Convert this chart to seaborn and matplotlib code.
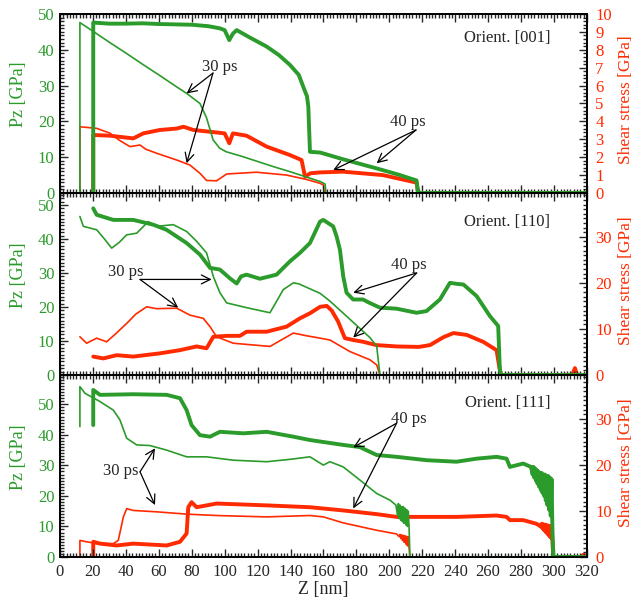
import matplotlib
matplotlib.use("Agg")
import matplotlib.pyplot as plt
from matplotlib.ticker import MultipleLocator
import seaborn as sns

# ---- Orient. [001] ----
z_001_pz30 = [12.1, 12.1, 20, 30, 40, 50, 60, 70, 77, 85, 89, 93, 97, 101, 110, 120, 130, 140, 150, 158, 161, 161.5, 320]
pz_001_30 = [0, 47.6, 45.2, 42.1, 39.1, 36.0, 33.0, 29.9, 27.8, 25.0, 21.0, 14.8, 12.5, 11.5, 10.3, 8.8, 7.3, 5.9, 4.4, 3.2, 2.5, 0, 0]
z_001_pz40 = [20.2, 20.2, 30, 40, 50, 60, 70, 80, 90, 97, 100, 102.8, 105, 107.3, 115, 125.5, 133, 139.6, 145, 147.7, 150, 150.8, 151.8, 158, 172, 192, 205, 216.5, 217.5, 320]
pz_001_40 = [0, 47.6, 47.3, 47.3, 47.4, 47.2, 47.1, 47.0, 46.6, 46.0, 45.5, 42.7, 44.5, 45.5, 43.5, 40.9, 38.5, 35.8, 33.0, 29.7, 27.0, 24.1, 11.5, 11.3, 9.4, 6.9, 5.2, 3.5, 0, 0]
z_001_sh30 = [12.1, 12.1, 22.3, 30.4, 36, 42.5, 48.6, 52, 58.7, 70.9, 78.9, 85, 89, 95.1, 101.2, 119.4, 137.6, 150, 157.9, 160, 160.5, 320]
sh_001_30 = [0, 3.70, 3.61, 3.34, 2.95, 2.59, 2.68, 2.45, 2.22, 1.84, 1.56, 1.10, 0.70, 0.68, 1.06, 1.16, 1.0, 0.75, 0.54, 0.45, 0, 0]
z_001_sh40 = [20.2, 20.2, 30.4, 44.5, 50.6, 60.7, 70.9, 75, 81, 93.1, 100, 102.8, 105, 113.3, 125.5, 139.6, 146.7, 148.8, 152, 158, 172, 196, 216.5, 217.5, 320]
sh_001_40 = [0, 3.24, 3.2, 3.05, 3.33, 3.52, 3.60, 3.70, 3.52, 3.40, 3.33, 2.78, 3.33, 3.2, 2.59, 2.12, 1.84, 0.91, 1.1, 1.15, 1.19, 1.0, 0.58, 0, 0]

# ---- Orient. [110] ----
z_110_pz30 = [12.1, 14.2, 22.3, 27, 31.4, 36, 40.5, 46.6, 53.6, 58.7, 68.8, 76.9, 83, 89, 93.1, 97.1, 101.2, 113.3, 127.5, 135.6, 141.7, 145, 158, 164, 176, 188.2, 192.3, 194.3, 320]
pz_110_30 = [46.6, 43.7, 42.7, 40.0, 37.3, 39.0, 41.2, 41.7, 45.1, 43.7, 44.2, 42.2, 39.3, 35.9, 29.0, 24.2, 21.2, 19.8, 18.3, 25.1, 27.1, 26.8, 24.0, 21.7, 16.4, 11.0, 8.5, 0, 0]
z_110_pz40 = [20.2, 22.3, 32.4, 44.5, 56.6, 64.7, 76.9, 85, 91.1, 97.1, 103, 107.3, 110, 113.3, 121.4, 131.5, 139.6, 145.7, 151.8, 157.9, 159.9, 165.9, 168, 170, 172, 174, 178, 184, 188, 194.3, 204.4, 216.5, 222.6, 230.7, 236.8, 241, 245, 253, 261.1, 266.1, 267.1, 267.8, 320]
pz_110_40 = [49.0, 47.1, 45.6, 45.6, 44.2, 42.7, 38.8, 35.4, 31.5, 31.0, 28.5, 26.9, 29.0, 29.5, 28.3, 29.5, 33.4, 35.9, 38.8, 45.1, 45.6, 43.7, 40.7, 36.8, 29.0, 24.2, 22.2, 22.2, 21.2, 19.8, 19.5, 18.3, 18.8, 22.2, 27.1, 26.8, 26.6, 23.2, 17.3, 14.4, 1.7, 0, 0]
z_110_sh30 = [12.1, 16.2, 22.3, 28.3, 34, 40.5, 46, 52.6, 58.7, 70.9, 78.9, 87, 91.1, 95.1, 105.2, 127.5, 141.7, 150, 158, 163.9, 176, 188.2, 192.3, 194.3, 320]
sh_110_30 = [8.3, 6.9, 8.0, 7.2, 9.0, 11.2, 13.2, 14.8, 14.4, 14.5, 13.0, 12.3, 10.5, 8.3, 6.9, 6.2, 9.1, 8.5, 8.0, 7.6, 5.1, 3.3, 2.2, 0, 0]
z_110_sh40 = [20.2, 26.3, 34.4, 44.5, 60.7, 72.9, 83, 89, 93.1, 101.2, 109.3, 113.3, 125.5, 137.6, 145.7, 151.8, 157.9, 162, 165, 168.9, 173, 178, 184.2, 192, 204.4, 218, 224.7, 232.8, 238.9, 247, 257, 265.1, 267.1, 268, 311, 312.7, 314, 320]
sh_110_40 = [4.0, 3.6, 4.3, 4.0, 4.7, 5.4, 6.2, 5.8, 8.3, 8.5, 8.5, 9.4, 9.4, 10.5, 12.3, 13.4, 14.8, 15.0, 14.0, 11.6, 8.0, 7.6, 7.2, 6.5, 6.2, 6.1, 6.5, 8.2, 9.1, 8.7, 7.2, 5.4, 1.0, 0, 0, 1.5, 0, 0]

# ---- Orient. [111] ----
z_111_pz30 = [12.1, 12.1, 15.2, 24.3, 32.4, 36.4, 40.5, 46.6, 54.6, 64.8, 76.9, 89, 105.2, 125.5, 140, 151.8, 159.9, 163.9, 172, 182.1, 192.3, 200.4, 204,
              205, 205.5, 206, 206.5, 207, 207.5, 208, 208.5, 209, 209.5, 210, 210.5, 211, 211.5, 212, 212.5, 320]
pz_111_30 = [42.7, 55.8, 53.6, 50.9, 48.1, 44.9, 38.9, 36.7, 36.5, 35.0, 32.8, 32.8, 31.7, 31.2, 32.0, 32.8, 30.1, 31.2, 29.5, 25.2, 20.8, 18.6, 17.0,
             13.5, 17.5, 12.5, 17.0, 12.0, 16.5, 11.5, 16.5, 11.0, 16.0, 10.5, 15.5, 10.0, 15.0, 9.5, 0, 0]
z_111_pz40 = [20.2, 20.2, 24.3, 44.5, 64.8, 72.9, 76.9, 79.9, 85, 91.1, 97.1, 111.3, 125.5, 141.7, 151.8, 172, 182, 192.3, 204.4, 222.6, 240.8, 253, 265.1, 271.2, 273.2, 281.3, 286,
              287, 287.5, 288, 288.5, 289, 289.5, 290, 290.5, 291, 291.5, 292, 292.5, 293, 293.5, 294, 294.5, 295, 295.5, 296, 296.5, 297, 297.5, 298, 298.5, 299, 299.5, 320]
pz_111_40 = [43.2, 54.7, 53.1, 53.3, 53.1, 52.0, 48.1, 43.2, 39.9, 39.4, 41.0, 40.5, 41.0, 39.4, 38.3, 36.7, 36.0, 33.4, 32.8, 31.7, 31.2, 32.2, 32.8, 32.2, 29.5, 30.6, 29.5,
             27.0, 29.5, 26.0, 29.0, 25.0, 28.5, 24.0, 28.0, 23.0, 27.5, 22.0, 27.5, 21.0, 27.0, 20.0, 27.0, 18.5, 26.5, 17.0, 26.5, 15.5, 26.0, 13.5, 25.5, 10.0, 0, 0]
z_111_sh30 = [12.1, 12.1, 16.2, 22.3, 32.4, 35.4, 38.5, 40.5, 44.5, 58.7, 76.9, 95.1, 125.5, 151.8, 160, 172, 192.3, 204.4,
              206, 206.5, 207, 207.5, 208, 208.5, 209, 209.5, 210, 210.5, 211, 211.5, 212, 212.5, 320]
sh_111_30 = [0, 3.6, 3.3, 2.9, 2.9, 3.6, 8.7, 10.5, 10.1, 9.8, 9.3, 9.0, 8.7, 9.0, 8.7, 7.4, 5.8, 5.0,
             4.4, 4.9, 4.0, 4.8, 3.6, 4.7, 3.2, 4.6, 2.8, 4.5, 2.4, 4.4, 2.0, 0, 0]
z_111_sh40 = [20.2, 20.2, 24.3, 34.4, 44.5, 64.8, 72.9, 76.9, 77.9, 79.9, 83, 95.1, 125.5, 151.8, 172, 192.3, 204.4, 222.6, 240.8, 265.1, 271.2, 273.2, 281.3, 289.4,
              292, 292.5, 293, 293.5, 294, 294.5, 295, 295.5, 296, 296.5, 297, 297.5, 298, 298.5, 299, 299.5, 316, 318, 320]
sh_111_40 = [0, 3.3, 2.9, 2.5, 2.9, 2.5, 3.3, 5.1, 10.8, 11.9, 10.8, 11.6, 11.2, 10.8, 10.1, 9.3, 8.7, 8.7, 8.7, 9.0, 8.7, 8.0, 8.0, 7.2,
             6.6, 7.2, 6.2, 7.1, 5.8, 7.0, 5.4, 6.9, 5.0, 6.8, 4.6, 6.7, 4.2, 6.6, 3.8, 0, 0, 0.5, 0]

orientaciones = ["Orient. [001]", "Orient. [110]", "Orient. [111]"]

VERDE = "#2b9b2b"
ROJO = "#ff2a00"
GRUESO = 2.8
FINO = 1.2


def linea(ax, x, y, color, lw):
    sns.lineplot(x=x, y=y, ax=ax, color=color, lw=lw, estimator=None, sort=False)


def flecha(ax, texto, pos_texto, origen, destinos):
    if texto:
        ax.text(pos_texto[0], pos_texto[1], texto, ha="center", va="center", fontsize=12, zorder=10)
    for d in destinos:
        ax.annotate("", xy=d, xytext=origen,
                    arrowprops=dict(arrowstyle="->", color="black", lw=0.9, mutation_scale=16,
                                    shrinkA=0, shrinkB=0), zorder=10)


def configurar(ax, ax2, ylim_pz, ylim_sh, paso_sh, menor_sh, ultimo):
    ax.set_xlim(0, 320)
    ax.set_ylim(*ylim_pz)
    ax2.set_ylim(*ylim_sh)
    ax.xaxis.set_major_locator(MultipleLocator(20))
    ax.xaxis.set_minor_locator(MultipleLocator(2))
    ax.yaxis.set_major_locator(MultipleLocator(10))
    ax.yaxis.set_minor_locator(MultipleLocator(1))
    ax2.yaxis.set_major_locator(MultipleLocator(paso_sh))
    ax2.yaxis.set_minor_locator(MultipleLocator(menor_sh))
    ax.tick_params(which="both", direction="in", top=True, right=False, width=1.0)
    ax.tick_params(which="major", length=6)
    ax.tick_params(which="minor", length=3)
    ax.tick_params(axis="y", labelcolor=VERDE, labelsize=12, pad=4)
    ax.tick_params(axis="x", labelsize=12, pad=5)
    ax2.tick_params(which="both", direction="in", right=True, left=False, width=1.0)
    ax2.tick_params(which="major", length=6)
    ax2.tick_params(which="minor", length=3)
    ax2.tick_params(axis="y", labelcolor=ROJO, labelsize=12, pad=6)
    if not ultimo:
        ax.tick_params(axis="x", labelbottom=False)
    for a in (ax, ax2):
        for s in a.spines.values():
            s.set_linewidth(1.3)
            s.set_color("black")
    ax.set_ylabel("Pz [GPa]", color=VERDE, fontsize=13)
    ax2.set_ylabel("Shear stress [GPa]", color=ROJO, fontsize=12.5, rotation=90)
    ax.yaxis.set_label_coords(-0.062, 0.55)
    ax2.yaxis.set_label_coords(1.058, 0.52)
    ax.set_xlabel("")


def main():
    sns.set_style("ticks")
    plt.rcParams["font.family"] = ["Liberation Serif", "DejaVu Serif"]

    fig = plt.figure(figsize=(6.36, 5.98), dpi=100)
    izq, ancho = 0.0943, 0.8286
    ax_a = fig.add_axes([izq, 0.6773, ancho, 0.2993])
    ax_b = fig.add_axes([izq, 0.3729, ancho, 0.3043])
    ax_c = fig.add_axes([izq, 0.0686, ancho, 0.3043])

    paneles = [
        (ax_a, (z_001_pz30, pz_001_30), (z_001_pz40, pz_001_40), (z_001_sh30, sh_001_30), (z_001_sh40, sh_001_40),
         (0, 50), (0, 10), 1, 0.2, 0.866),
        (ax_b, (z_110_pz30, pz_110_30), (z_110_pz40, pz_110_40), (z_110_sh30, sh_110_30), (z_110_sh40, sh_110_40),
         (0, 53.5), (0, 39.5), 10, 1, 0.842),
        (ax_c, (z_111_pz30, pz_111_30), (z_111_pz40, pz_111_40), (z_111_sh30, sh_111_30), (z_111_sh40, sh_111_40),
         (0, 59.6), (0, 39.5), 10, 1, 0.845),
    ]

    twins = []
    for i, (ax, p30, p40, s30, s40, ylp, yls, paso, menor, y_or) in enumerate(paneles):
        linea(ax, p30[0], p30[1], VERDE, FINO)
        linea(ax, p40[0], p40[1], VERDE, GRUESO)
        ax2 = ax.twinx()
        linea(ax2, s30[0], s30[1], ROJO, FINO)
        linea(ax2, s40[0], s40[1], ROJO, GRUESO)
        configurar(ax, ax2, ylp, yls, paso, menor, i == 2)
        ax2.text(0.93, y_or, orientaciones[i], transform=ax2.transAxes, ha="right", va="center", fontsize=12)
        ax.set_zorder(ax2.get_zorder() + 1)
        ax.patch.set_visible(False)
        twins.append(ax2)

    # Anotaciones (coordenadas del eje Pz)
    flecha(ax_a, "30 ps", (97.1, 35.2), (92.9, 33.5), [(76.9, 27.8), (76.9, 8.3)])
    flecha(ax_a, "40 ps", (211.3, 19.8), (216.2, 17.6), [(165.9, 6.4), (192.3, 8.3)])

    flecha(ax_b, "30 ps", (39.8, 30.2), (48.6, 28.1), [(92.1, 28.1), (71.8, 19.8)])
    flecha(ax_b, "40 ps", (211.9, 32.2), (216.6, 30.0), [(178.1, 24.2), (178.1, 11.0)])

    flecha(ax_c, "30 ps", (37.0, 28.1), (48.6, 27.9), [(57.7, 35.6), (57.7, 17.0)])
    flecha(ax_c, "40 ps", (211.9, 45.1), (204.4, 43.8), [(178.1, 35.9), (178.1, 15.9)])

    ax_c.set_xlabel("Z [nm]", fontsize=13, labelpad=1)

    fig.savefig("out.png", dpi=100)
    plt.close(fig)


if __name__ == "__main__":
    main()
